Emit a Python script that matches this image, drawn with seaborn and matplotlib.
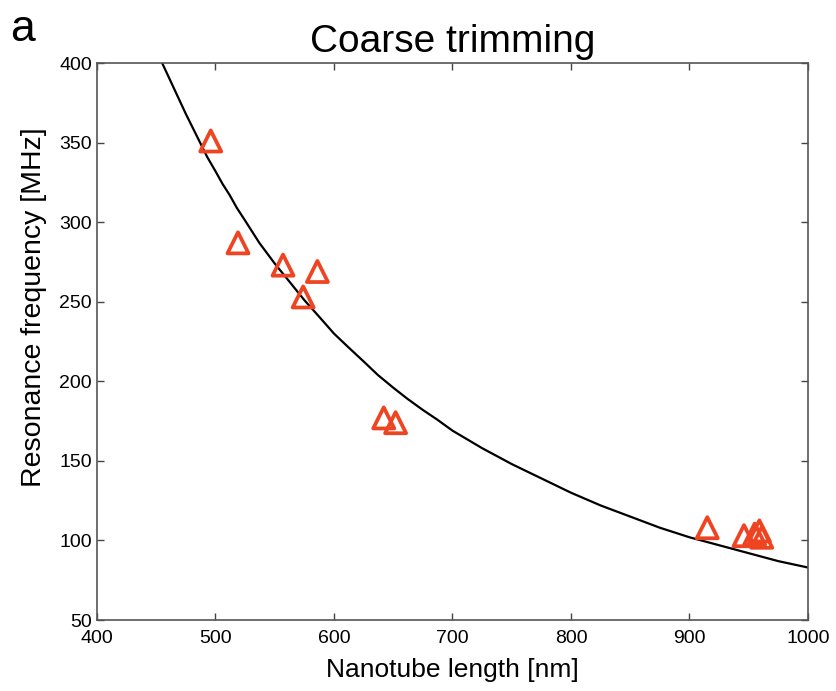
import matplotlib
matplotlib.use("Agg")
import matplotlib.pyplot as plt
import seaborn as sns
import pandas as pd

# measured resonance data (triangles)
length_nm = [496, 519, 557, 586, 574, 642, 652, 915, 946, 955, 959, 961]
freq_mhz = [351, 287, 273, 269, 253, 177, 174, 108, 103, 104, 106, 102]

# fit curve
fit_length = [455, 460, 465, 470, 475, 481, 487, 493, 500, 506, 512, 518, 525,
              531, 537, 543, 550, 562, 575, 587, 600, 612, 625, 637, 650, 662,
              675, 687, 700, 725, 750, 775, 800, 825, 850, 875, 900, 925, 950,
              975, 1000]
fit_freq = [400, 392, 384, 376, 368, 359, 350, 341, 332, 324, 317, 309, 301,
            294, 287, 281, 274, 263, 251, 241, 230, 221.5, 212.5, 204, 196, 189,
            182, 176, 169, 158, 148, 139, 130, 122, 115, 108, 102, 97, 92,
            87, 83]

x_ticks = [400, 500, 600, 700, 800, 900, 1000]
y_ticks = [50, 100, 150, 200, 250, 300, 350, 400]

sns.set_style("ticks")
plt.rcParams['font.family'] = ['Liberation Sans', 'DejaVu Sans']
plt.rcParams['xtick.direction'] = 'in'
plt.rcParams['ytick.direction'] = 'in'
plt.rcParams['text.color'] = 'black'
plt.rcParams['axes.labelcolor'] = 'black'
plt.rcParams['xtick.labelcolor'] = 'black'
plt.rcParams['ytick.labelcolor'] = 'black'

pts = pd.DataFrame({'length': length_nm, 'freq': freq_mhz})
fit = pd.DataFrame({'length': fit_length, 'freq': fit_freq})

fig = plt.figure(figsize=(8.36, 6.91), dpi=100)
ax = fig.add_axes([0.116, 0.1027, 0.8505, 0.8061])

sns.lineplot(data=fit, x='length', y='freq', color='black', linewidth=1.6,
             sort=False, ax=ax)
sns.scatterplot(data=pts, x='length', y='freq', marker='^', s=230,
                facecolor='none', edgecolor='#EE4422', linewidth=2.7,
                zorder=3, ax=ax)

ax.set_xlim(400, 1000)
ax.set_ylim(50, 400)
ax.set_xticks(x_ticks)
ax.set_yticks(y_ticks)
ax.tick_params(axis='both', which='both', top=True, right=True, length=5,
               width=1, labelsize=14, color='#444444')
ax.tick_params(axis='x', pad=7)
for sp in ax.spines.values():
    sp.set_visible(True)
    sp.set_color('#555555')
    sp.set_linewidth(1.2)

ax.set_xlabel('Nanotube length [nm]', fontsize=19, labelpad=8)
ax.set_ylabel('Resonance frequency [MHz]', fontsize=20.5)
ax.yaxis.set_label_coords(-0.07, 0.562)
ax.set_title('Coarse trimming', fontsize=28, pad=8)
fig.text(0.012, 0.94, 'a', fontsize=32, ha='left', va='baseline')

fig.savefig('out.png', dpi=100)
